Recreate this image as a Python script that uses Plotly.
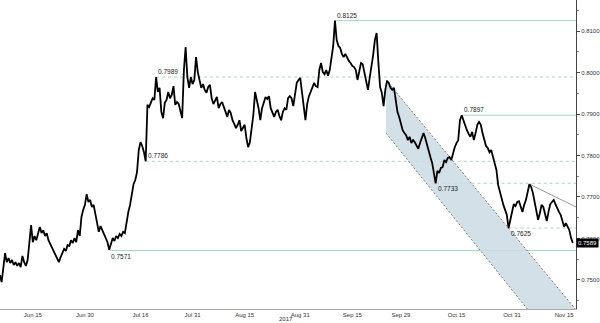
import plotly.graph_objects as go
import pandas as pd

# ---- data ----
price = [
    0.7512, 0.7495, 0.7529, 0.7565, 0.7543, 0.7553, 0.7541, 0.7548, 0.7536, 0.7543,
    0.7534, 0.7541, 0.7531, 0.7558, 0.7543, 0.7534, 0.7548, 0.7596, 0.7632, 0.7591,
    0.7606, 0.7596, 0.7616, 0.7628, 0.7613, 0.7620, 0.7606, 0.7613, 0.7596, 0.7587,
    0.7577, 0.7567, 0.7560, 0.7548, 0.7543, 0.7555, 0.7567, 0.7575, 0.7570, 0.7584,
    0.7582, 0.7596, 0.7589, 0.7601, 0.7591, 0.7620, 0.7606, 0.7652, 0.7669, 0.7681,
    0.7707, 0.7688, 0.7693, 0.7676, 0.7681, 0.7661, 0.7640, 0.7616, 0.7630, 0.7620,
    0.7613, 0.7601, 0.7591, 0.7573, 0.7589, 0.7601, 0.7594, 0.7606, 0.7601, 0.7611,
    0.7606, 0.7616, 0.7613, 0.7640, 0.7664, 0.7681, 0.7712, 0.7731, 0.7741, 0.7760,
    0.7813, 0.7832, 0.7823, 0.7808, 0.7786, 0.7922, 0.7917, 0.7927, 0.7938, 0.7934,
    0.7989, 0.7953, 0.7963, 0.7905, 0.7890, 0.7927, 0.7934, 0.7953, 0.7938, 0.7946,
    0.7967, 0.7922, 0.7929, 0.7924, 0.7905, 0.7890, 0.8006, 0.8061, 0.7989, 0.7963,
    0.7989, 0.7972, 0.7982, 0.8037, 0.8001, 0.7982, 0.7963, 0.7972, 0.7958, 0.7951,
    0.7965, 0.7970, 0.7938, 0.7924, 0.7934, 0.7941, 0.7914, 0.7924, 0.7929, 0.7914,
    0.7905, 0.7893, 0.7910, 0.7902, 0.7885, 0.7876, 0.7866, 0.7874, 0.7885, 0.7859,
    0.7866, 0.7874, 0.7842, 0.7820, 0.7832, 0.7866, 0.7898, 0.7953, 0.7934, 0.7914,
    0.7885, 0.7914, 0.7927, 0.7941, 0.7936, 0.7943, 0.7914, 0.7902, 0.7893, 0.7905,
    0.7910, 0.7895, 0.7885, 0.7905, 0.7914, 0.7910, 0.7938, 0.7943, 0.7938, 0.7919,
    0.7946, 0.7975, 0.7982, 0.7987, 0.7953, 0.7910, 0.7885, 0.7924, 0.7943, 0.7953,
    0.7963, 0.7975, 0.7967, 0.7965, 0.8006, 0.8023, 0.8001, 0.7996, 0.8006, 0.7992,
    0.8006, 0.8037, 0.8064, 0.8125, 0.8078, 0.8064, 0.8059, 0.8045, 0.8037, 0.8045,
    0.8035, 0.8028, 0.8023, 0.8016, 0.8013, 0.8006, 0.7982, 0.7999, 0.8023, 0.8020,
    0.8001, 0.7982, 0.7958, 0.7987, 0.8011, 0.8042, 0.8078, 0.8095, 0.8025, 0.7965,
    0.7951, 0.7919, 0.7958, 0.7980, 0.7975, 0.7963, 0.7958, 0.7963, 0.7934, 0.7905,
    0.7893, 0.7876, 0.7861, 0.7854, 0.7849, 0.7837, 0.7845, 0.7830, 0.7837, 0.7832,
    0.7823, 0.7816, 0.7830, 0.7845, 0.7854, 0.7842, 0.7825, 0.7813, 0.7796, 0.7782,
    0.7751, 0.7733, 0.7763, 0.7758, 0.7770, 0.7772, 0.7789, 0.7784, 0.7794, 0.7796,
    0.7789, 0.7806, 0.7820, 0.7830, 0.7837, 0.7885, 0.7897, 0.7885, 0.7871, 0.7861,
    0.7852, 0.7845, 0.7857, 0.7837, 0.7854, 0.7874, 0.7881, 0.7874, 0.7854, 0.7837,
    0.7823, 0.7818, 0.7808, 0.7813, 0.7799, 0.7779, 0.7765, 0.7729, 0.7712, 0.7698,
    0.7681, 0.7669, 0.7657, 0.7625, 0.7645, 0.7669, 0.7683, 0.7678, 0.7688, 0.7690,
    0.7674, 0.7664, 0.7681, 0.7693, 0.7712, 0.7731, 0.7724, 0.7710, 0.7688, 0.7661,
    0.7645, 0.7661, 0.7681, 0.7676, 0.7661, 0.7642, 0.7664, 0.7683, 0.7688, 0.7693,
    0.7683, 0.7671, 0.7664, 0.7657, 0.7645, 0.7628, 0.7637, 0.7630, 0.7620, 0.7601,
    0.7589,
]
dates = pd.date_range("2017-06-05 12:00", periods=len(price), freq="12h")

level_values = [0.8125, 0.7989, 0.7897, 0.7786, 0.7733, 0.7625, 0.7571]
level_dates = ["2017-09-10 00:00", "2017-07-20 12:00", "2017-10-16 12:00",
               "2017-07-17 12:00", "2017-10-09 00:00", "2017-10-30 00:00",
               "2017-07-07 00:00"]
level_kind = ["solid", "dash", "solid", "dash", "dash", "dash", "solid"]
label_side = ["above", "above", "above", "above", "below", "below", "below"]

channel_upper_dates = ["2017-09-24 17:00", "2017-11-18 05:00"]
channel_upper_values = [0.7982, 0.7430]
channel_lower_dates = ["2017-09-24 17:00", "2017-11-04 10:00"]
channel_lower_values = [0.7854, 0.7430]

resist_dates = ["2017-11-05 00:00", "2017-11-18 10:00"]
resist_values = [0.7731, 0.7676]

tick_dates = ["2017-06-15", "2017-06-30", "2017-07-16", "2017-07-31", "2017-08-15",
              "2017-08-31", "2017-09-15", "2017-09-29", "2017-10-15", "2017-10-31",
              "2017-11-15"]
tick_labels = ["Jun 15", "Jun 30", "Jul 16", "Jul 31", "Aug 15", "Aug 31",
               "Sep 15", "Sep 29", "Oct 15", "Oct 31", "Nov 15"]
y_ticks = [0.75, 0.76, 0.77, 0.78, 0.79, 0.80, 0.81]
last_price = 0.7589
year_label = "2017"

X_RANGE = ["2017-06-05 13:00", "2017-11-18 10:00"]
Y_RANGE = [0.74301, 0.81747]

FONT = "Liberation Sans, Arial, sans-serif"
LEVEL_COLOR = "#a9d5cb"

fig = go.Figure()

# channel fill
poly_x = channel_upper_dates + channel_lower_dates[::-1]
poly_y = channel_upper_values + channel_lower_values[::-1]
fig.add_trace(go.Scatter(x=poly_x, y=poly_y, fill="toself", mode="lines",
                         fillcolor="rgba(205,218,228,0.85)",
                         line=dict(width=0), hoverinfo="skip", showlegend=False))
for dx, dy in ((channel_upper_dates, channel_upper_values),
               (channel_lower_dates, channel_lower_values)):
    fig.add_trace(go.Scatter(x=dx, y=dy, mode="lines",
                             line=dict(color="#7a7a7a", width=1, dash="2px,2px"),
                             hoverinfo="skip", showlegend=False))

# resistance line
fig.add_trace(go.Scatter(x=resist_dates, y=resist_values, mode="lines",
                         line=dict(color="#9a9a9a", width=1),
                         hoverinfo="skip", showlegend=False))

# price line
fig.add_trace(go.Scatter(x=dates, y=price, mode="lines",
                         line=dict(color="#000000", width=1.8),
                         hoverinfo="skip", showlegend=False))

# levels
for v, d, k, side in zip(level_values, level_dates, level_kind, label_side):
    fig.add_shape(type="line", xref="x", yref="y", x0=d, x1=X_RANGE[1], y0=v, y1=v,
                  line=dict(color=LEVEL_COLOR, width=1,
                            dash="solid" if k == "solid" else "3px,3px"),
                  layer="below")
    fig.add_annotation(x=d, y=v, xref="x", yref="y", text=f"{v:.4f}",
                       showarrow=False, xanchor="left",
                       yanchor="bottom" if side == "above" else "top",
                       yshift=0, font=dict(family=FONT, size=6.5, color="#222"))

# last price tag
fig.add_annotation(x=1, y=last_price, xref="paper", yref="y", text=f"{last_price:.4f}",
                   showarrow=False, xanchor="left", yanchor="middle",
                   bgcolor="#000000", borderpad=1,
                   font=dict(family=FONT, size=6, color="#ffffff"))

# year
fig.add_annotation(x=0.4966, y=-0.032, xref="paper", yref="paper", text=year_label,
                   showarrow=False, xanchor="center", yanchor="middle",
                   font=dict(family=FONT, size=6, color="#333"))

fig.update_layout(
    width=600, height=323,
    margin=dict(l=0, r=21, t=0, b=14),
    paper_bgcolor="white", plot_bgcolor="white",
    font=dict(family=FONT, size=6, color="#333"),
    xaxis=dict(range=X_RANGE, type="date", tickmode="array",
               tickvals=tick_dates, ticktext=tick_labels,
               showgrid=False, zeroline=False, showline=True,
               linecolor="#aaaaaa", linewidth=1, ticks="", ticklen=0,
               tickfont=dict(size=6, color="#333")),
    yaxis=dict(range=Y_RANGE, side="right", tickmode="array",
               tickvals=y_ticks, ticktext=[f"{t:.4f}" for t in y_ticks],
               showgrid=False, zeroline=False, showline=True,
               linecolor="#444444", linewidth=1, ticks="outside", ticklen=3,
               tickcolor="#444", tickfont=dict(size=6, color="#333"),
               minor=dict(ticks="outside", ticklen=2, dtick=0.005,
                          tickcolor="#888")),
)

fig.write_html("out.html")
